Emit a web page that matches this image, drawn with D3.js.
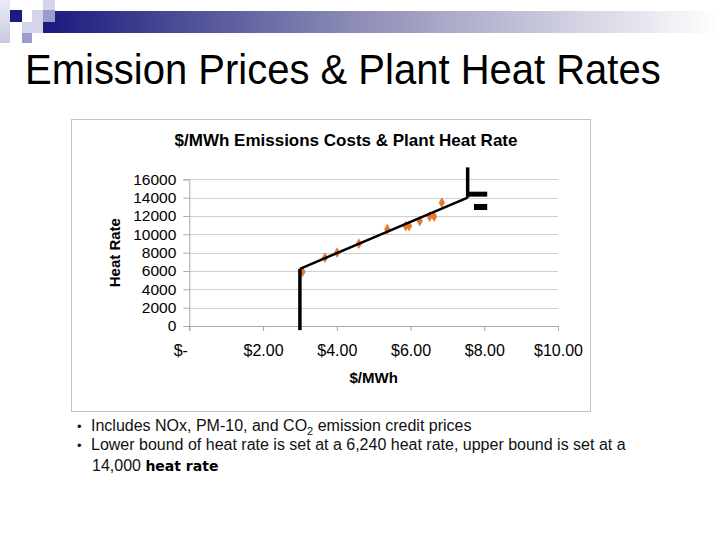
<!DOCTYPE html>
<html>
<head>
<meta charset="utf-8">
<script src="https://cdn.jsdelivr.net/npm/d3@7"></script>
<style>
body { margin: 0; background: #fff; }
text { font-family: "Liberation Sans", Arial, sans-serif; }
</style>
</head>
<body>
<svg id="slide" width="720" height="540"></svg>
<script>
// data
var emissionCost = [3.07, 3.68, 4.01, 4.60, 5.37, 5.87, 5.96, 6.25, 6.52, 6.64, 6.85];
var heatRate     = [5920, 7450, 8000, 8980, 10550, 10910, 10910, 11450, 11930, 11930, 13450];

// heat rate bounds (lower 6,240 / upper 14,000)
var boundCost = [3.0, 3.0, 7.55, 7.55];
var boundRate = [-450, 6240, 14000, 17300];

// the two black blocks next to the upper bound
var blockX0 = [7.55, 7.72];
var blockX1 = [8.08, 8.08];
var blockY0 = [14650, 13310];
var blockY1 = [14110, 12650];

var xTicks = [0, 2, 4, 6, 8, 10];
var yTicks = [0, 2000, 4000, 6000, 8000, 10000, 12000, 14000, 16000];

var slideTitle = "Emission Prices & Plant Heat Rates";
var chartTitle = "$/MWh Emissions Costs & Plant Heat Rate";
var xTitle = "$/MWh";
var yTitle = "Heat Rate";

var svg = d3.select("#slide");

// ---- slide header decoration ----
var defs = svg.append("defs");
var grad = defs.append("linearGradient").attr("id", "band")
  .attr("x1", "0%").attr("x2", "100%");
grad.append("stop").attr("offset", "0%").attr("stop-color", "#1e1e80");
grad.append("stop").attr("offset", "45%").attr("stop-color", "#8c8cb6");
grad.append("stop").attr("offset", "100%").attr("stop-color", "#ffffff");
var strip = defs.append("linearGradient").attr("id", "strip")
  .attr("x1", "0%").attr("x2", "0%").attr("y1", "0%").attr("y2", "100%");
strip.append("stop").attr("offset", "0%").attr("stop-color", "#ececf6");
strip.append("stop").attr("offset", "100%").attr("stop-color", "#c8c8e2");

var gHead = svg.append("g");
gHead.append("rect").attr("x", 55).attr("y", 11).attr("width", 665).attr("height", 22).attr("fill", "url(#band)");
gHead.append("rect").attr("x", 0).attr("y", 0).attr("width", 10).attr("height", 43).attr("fill", "url(#strip)");
var squares = [
  [10, 10, 12, 12, "#1b1b80"],
  [32, 10, 11, 12, "#d4d4ea"],
  [43, 0, 12, 10, "#d4d4ea"],
  [43, 10, 12, 12, "#9c9ccc"],
  [22, 22, 21, 11, "#d4d4ea"],
  [43, 22, 12, 11, "#1e1e80"],
  [22, 33, 10, 10, "#9c9ccc"]
];
gHead.selectAll("rect.sq").data(squares).enter().append("rect")
  .attr("class", "sq")
  .attr("x", function(d) { return d[0]; })
  .attr("y", function(d) { return d[1]; })
  .attr("width", function(d) { return d[2]; })
  .attr("height", function(d) { return d[3]; })
  .attr("fill", function(d) { return d[4]; });

svg.append("text").attr("transform", "translate(25,84) scale(1,1.08)")
  .attr("font-size", 40).attr("fill", "#000")
  .text(slideTitle);

// ---- chart box ----
svg.append("rect").attr("x", 71.5).attr("y", 119.5).attr("width", 519).attr("height", 292)
  .attr("fill", "#fff").attr("stroke", "#c4c4c4");

svg.append("text").attr("x", 346).attr("y", 146)
  .attr("text-anchor", "middle").attr("font-size", 17).attr("font-weight", "bold")
  .text(chartTitle);

var scaleX = d3.scaleLinear().domain([0, 10]).range([189.3, 558]);
var scaleY = d3.scaleLinear().domain([0, 16000]).range([326, 179.3]);

var gPlot = svg.append("g");

// gridlines
gPlot.selectAll("line.grid").data(yTicks.slice(1)).enter().append("line")
  .attr("class", "grid")
  .attr("x1", scaleX(0)).attr("x2", scaleX(10))
  .attr("y1", function(d) { return Math.round(scaleY(d)) + 0.5; })
  .attr("y2", function(d) { return Math.round(scaleY(d)) + 0.5; })
  .attr("stroke", "#cfcfcf").attr("stroke-width", 1.2);

// axes
var axisY = d3.axisLeft(scaleY).tickValues(yTicks).tickSize(6).tickPadding(7)
  .tickFormat(d3.format("d"));
var gAxisY = gPlot.append("g").attr("transform", "translate(" + scaleX(0) + ",0)").call(axisY);
gAxisY.selectAll("text").attr("font-size", 15.5).attr("fill", "#000")
  .style("font-family", "'Liberation Sans', Arial, sans-serif");

var axisX = d3.axisBottom(scaleX).tickValues(xTicks).tickSize(5).tickPadding(14)
  .tickFormat(function(d) { return d === 0 ? "$-" : "$" + d3.format(".2f")(d); });
var gAxisX = gPlot.append("g").attr("transform", "translate(0," + scaleY(0) + ")").call(axisX);
gAxisX.selectAll("text").attr("font-size", 16).attr("fill", "#000")
  .style("font-family", "'Liberation Sans', Arial, sans-serif");
gAxisX.selectAll(".tick").filter(function(d) { return d === 0; }).select("text").attr("dx", -9);

[gAxisX, gAxisY].forEach(function(g) {
  g.select(".domain").attr("stroke", "#a8a8a8");
  g.selectAll(".tick line").attr("stroke", "#a8a8a8");
});

// axis titles
svg.append("text").attr("x", scaleX(5)).attr("y", 383)
  .attr("text-anchor", "middle").attr("font-size", 15).attr("font-weight", "bold")
  .text(xTitle);
svg.append("text").attr("transform", "translate(120," + scaleY(8000) + ") rotate(-90)")
  .attr("text-anchor", "middle").attr("font-size", 15).attr("font-weight", "bold")
  .text(yTitle);

// scatter points
var points = emissionCost.map(function(c, i) { return { x: c, y: heatRate[i] }; });
gPlot.selectAll("path.pt").data(points).enter().append("path")
  .attr("class", "pt")
  .attr("d", d3.symbol().type(d3.symbolDiamond).size(34))
  .attr("transform", function(d) { return "translate(" + scaleX(d.x) + "," + scaleY(d.y) + ")"; })
  .attr("fill", "#e8782a");

// bound lines
var bound = boundCost.map(function(c, i) { return { x: c, y: boundRate[i] }; });
var line = d3.line().x(function(d) { return scaleX(d.x); }).y(function(d) { return scaleY(d.y); });
gPlot.append("path").datum(bound.slice(1, 3)).attr("d", line)
  .attr("fill", "none").attr("stroke", "#000").attr("stroke-width", 2.5);
gPlot.append("path").datum(bound.slice(0, 2)).attr("d", line)
  .attr("fill", "none").attr("stroke", "#000").attr("stroke-width", 3.5);
gPlot.append("path").datum(bound.slice(2, 4)).attr("d", line)
  .attr("fill", "none").attr("stroke", "#000").attr("stroke-width", 3.5);

var blocks = blockX0.map(function(x0, i) {
  return { x0: x0, x1: blockX1[i], y0: blockY0[i], y1: blockY1[i] };
});
gPlot.selectAll("rect.blk").data(blocks).enter().append("rect")
  .attr("class", "blk")
  .attr("x", function(d) { return scaleX(d.x0); })
  .attr("width", function(d) { return scaleX(d.x1) - scaleX(d.x0); })
  .attr("y", function(d) { return scaleY(d.y0); })
  .attr("height", function(d) { return scaleY(d.y1) - scaleY(d.y0); })
  .attr("fill", "#000");

// ---- bullet text ----
var gText = svg.append("g").attr("font-size", 16).attr("fill", "#111");
gText.append("text").attr("x", 77).attr("y", 431).attr("font-size", 13).text("•");
gText.append("text").attr("x", 77).attr("y", 450).attr("font-size", 13).text("•");

var t1 = gText.append("text").attr("x", 91).attr("y", 431);
t1.append("tspan").text("Includes NOx, PM-10, and CO");
t1.append("tspan").attr("font-size", 11).attr("dy", 4).text("2");
t1.append("tspan").attr("dy", -4).text(" emission credit prices");

gText.append("text").attr("x", 91).attr("y", 450)
  .text("Lower bound of heat rate is set at a 6,240 heat rate, upper bound is set at a");

var t3 = gText.append("text").attr("x", 92).attr("y", 471);
t3.append("tspan").text("14,000 ");
t3.append("tspan").style("font-family", "'DejaVu Sans', sans-serif")
  .attr("font-size", 14).attr("font-weight", "bold").attr("fill", "#000").text("heat rate");
</script>
</body>
</html>
